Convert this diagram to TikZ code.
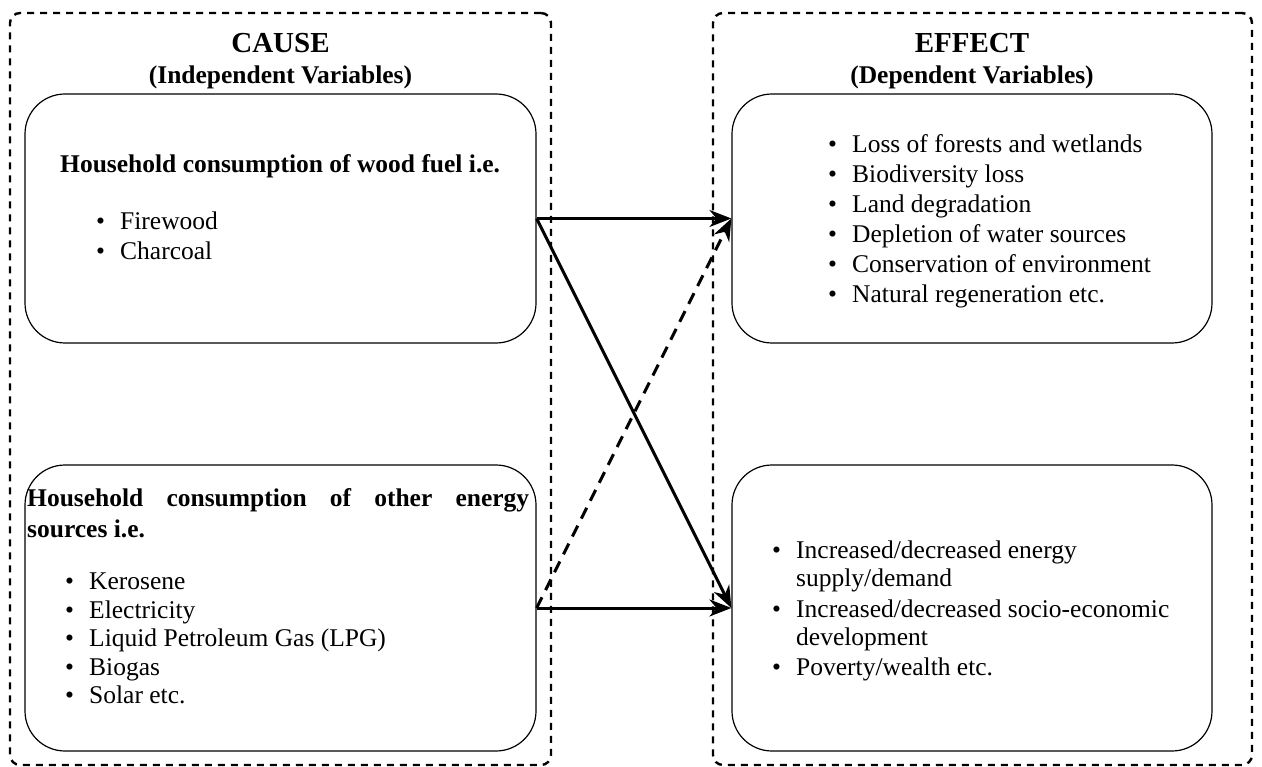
\documentclass[tikz,border=0pt]{standalone}
\usepackage{fontspec}
\setmainfont{Liberation Serif}
\usetikzlibrary{arrows.meta}
\newcommand{\bul}{\makebox[24pt][l]{\textbullet}}
\newcommand{\ind}{\hspace*{24pt}}

\begin{document}
\begin{tikzpicture}[x=1pt,y=-1pt,
  every node/.style={font=\fontsize{25.5}{30}\selectfont, inner sep=0pt},
  heading/.style={font=\fontsize{25.5}{31}\selectfont\bfseries},
  title/.style={anchor=base, font=\fontsize{29}{31}\selectfont\bfseries},
  subtitle/.style={anchor=base, font=\fontsize{25.5}{31}\selectfont\bfseries},
  groupbox/.style={draw, line width=2.4pt, dash pattern=on 7pt off 6pt, rounded corners=10pt, minimum height=752pt},
  varbox/.style={draw, line width=1.2pt, rounded corners=40pt},
  items/.style={anchor=north west, align=left},
  link/.style={line width=3pt, -{Stealth[length=22pt,width=17pt]}}]
\useasboundingbox (0,0) rectangle (1262,767);
% outer groups
\node[groupbox, minimum width=541pt] (cause) at (280.5,389) {};
\node[groupbox, minimum width=539pt] (effect) at (982.5,389) {};
\node[title] (causet) at (280.5,53) {CAUSE};
\node[subtitle] (causes) at (280.5,84) {(Independent Variables)};
\node[title] (effectt) at (972,53) {EFFECT};
\node[subtitle] (effects) at (972,84) {(Dependent Variables)};
% independent variables
\node[varbox, minimum width=511pt, minimum height=249pt] (wood) at (280.5,218.5) {};
\node[varbox, minimum width=511pt, minimum height=286pt] (other) at (280.5,608) {};
\node[heading, anchor=base west] (woodh) at (60,173) {Household consumption of wood fuel i.e.};
\node[items] (woodl) at (96,212) {\bul Firewood\\ \bul Charcoal};
\node[heading, anchor=north west, text width=502pt, align=justify] (otherh) at (27,488) {Household consumption of other energy\linebreak sources i.e.};
\node[items, font=\fontsize{25.5}{28.5}\selectfont] (otherl) at (65,573) {\bul Kerosene\\ \bul Electricity\\ \bul Liquid Petroleum Gas (LPG)\\ \bul Biogas\\ \bul Solar etc.};
% dependent variables
\node[varbox, minimum width=480pt, minimum height=249pt] (dep) at (972,218.5) {};
\node[varbox, minimum width=480pt, minimum height=286pt] (soc) at (972,608) {};
\node[items] (depl) at (828,134) {\bul Loss of forests and wetlands\\ \bul Biodiversity loss\\ \bul Land degradation\\ \bul Depletion of water sources\\ \bul Conservation of environment\\ \bul Natural regeneration etc.};
\node[items, font=\fontsize{25.5}{28}\selectfont] (socl) at (772,541) {\bul Increased/decreased energy\\ \ind supply/demand\\[3pt] \bul Increased/decreased socio-economic\\ \ind development\\[2pt] \bul Poverty/wealth etc.};
% links
\path[link]
(wood.east) edge (dep.west)
(wood.east) edge (soc.west)
(other.east) edge (soc.west)
(other.east) edge[dash pattern=on 12pt off 8pt] (dep.west);
\end{tikzpicture}
\end{document}
